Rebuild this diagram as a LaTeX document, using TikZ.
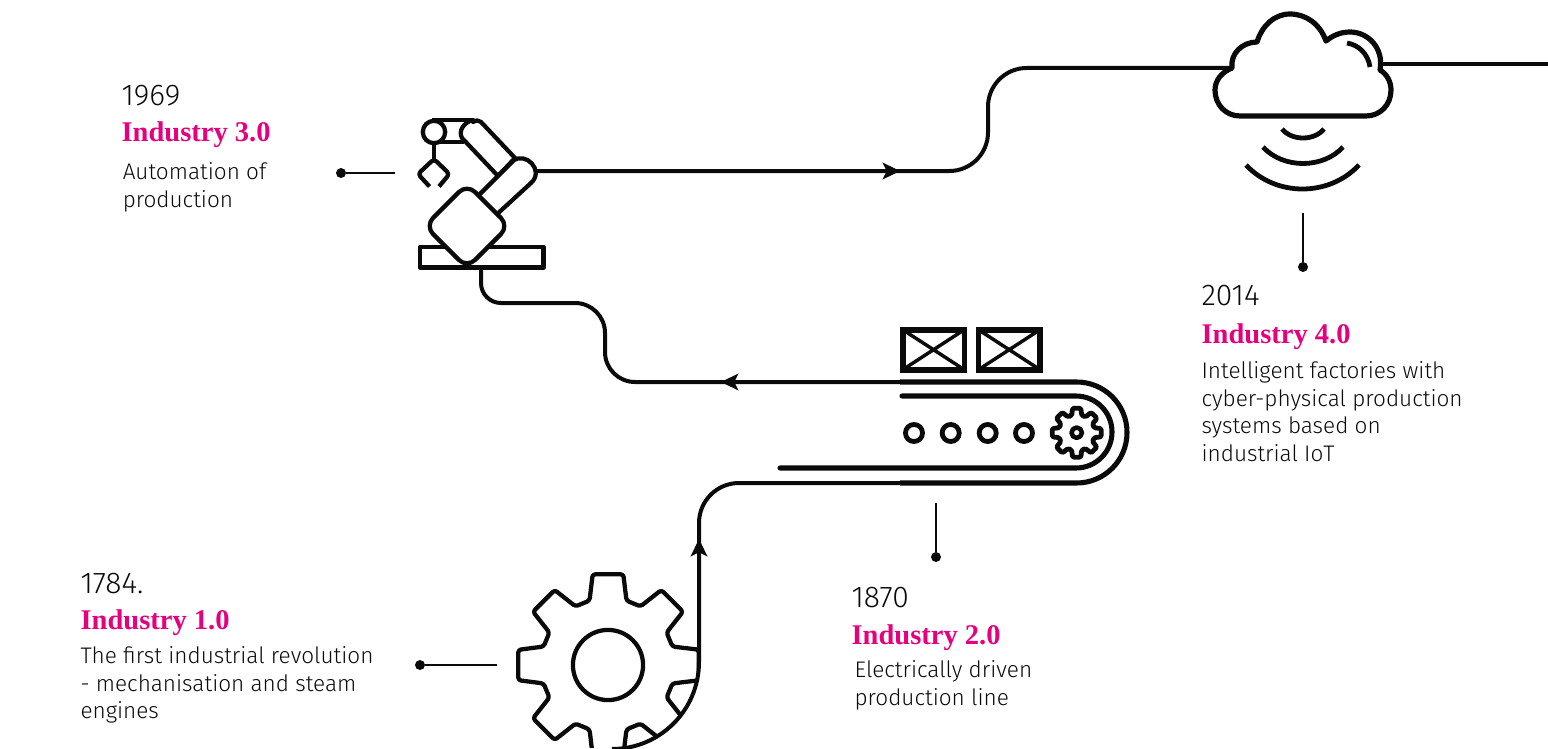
\documentclass[tikz,border=0pt]{standalone}
\usepackage{fontspec}
\usetikzlibrary{arrows.meta}
\setmainfont{Fira Sans Light}
\newfontfamily\headfont{Liberation Serif}[BoldFont={Liberation Serif Bold}]
\definecolor{ink}{HTML}{0A0A0A}
\definecolor{magentaHead}{HTML}{E5007E}
\tikzset{
  wire/.style={draw=ink,line width=3pt},
  belt/.style={draw=ink,line width=3.8pt},
  icon/.style={draw=ink,line width=3.2pt,line join=round,fill=white},
  iconopen/.style={draw=ink,line width=3.2pt,line join=round},
  leader/.style={draw=ink,line width=1.1pt},
  tipdot/.style={circle,fill=ink,inner sep=0pt,minimum size=7.5pt},
  flow/.style={draw=ink,line width=3pt,-{Stealth[length=13pt,width=12.5pt,inset=3pt]}},
  yearlabel/.style={anchor=base west,inner sep=0pt,text=ink,font=\fontsize{22.5}{26}\selectfont},
  titlelabel/.style={anchor=base west,inner sep=0pt,text=magentaHead,font=\headfont\bfseries\fontsize{21.4}{25}\selectfont},
  bodylabel/.style={anchor=north west,inner sep=0pt,align=left,text=ink,font=\fontsize{16.9}{20.7}\selectfont},
}
\begin{document}
\begin{tikzpicture}[x=0.75pt,y=-0.75pt]
\useasboundingbox (0,0) rectangle (1548,749);
% named anchors of the flow line
\coordinate (gearFoot) at (612,749);
\coordinate (beltIn) at (900,483);
\coordinate (beltOut) at (900,382);
\coordinate (platformFoot) at (481,269);
\coordinate (robotOut) at (533,171);
\coordinate (cloudIn) at (1232,68);
\coordinate (cloudOut) at (1380,64);
\coordinate (pageEnd) at (1548,64);
% flow wires
\draw[wire] (gearFoot) [rounded corners=65.25pt] -- (699,749) [rounded corners=30pt] -- (699,483) [sharp corners] -- (beltIn);
\draw[wire] (beltOut) [rounded corners=22.5pt] -- (605,382) -- (605,303) [rounded corners=15pt] -- (481,303) [sharp corners] -- (platformFoot);
\draw[wire] (robotOut) [rounded corners=29pt] -- (988,171) -- (988,68) [sharp corners] -- (cloudIn);
\draw[wire] (cloudOut) -- (pageEnd);
% arrowheads
\coordinate (a1s) at (699,560); \coordinate (a1e) at (699,539);
\coordinate (a2s) at (880,171); \coordinate (a2e) at (900,171);
\coordinate (a3s) at (742,382); \coordinate (a3e) at (721,382);
\draw[flow] (a1s) -- (a1e);
\draw[flow] (a2s) -- (a2e);
\draw[flow] (a3s) -- (a3e);
% big gear, cut by the flow line
\begin{scope}
\clip (500,560) -- (697.5,560) -- (697.5,662) .. controls (697.5,710) and (660,747.5) .. (612,747.5) -- (500,749) -- cycle;
\draw[iconopen,shift={(608,665)},rounded corners=2pt]
  (-16:67) -- (-9.6:92) -- (9.6:92) -- (16:67)
  -- (29:67) -- (35.4:92) -- (54.6:92) -- (61:67)
  -- (74:67) -- (80.4:92) -- (99.6:92) -- (106:67)
  -- (119:67) -- (125.4:92) -- (144.6:92) -- (151:67)
  -- (164:67) -- (170.4:91) -- (189.6:91) -- (196:67)
  -- (209:67) -- (215.4:92) -- (234.6:92) -- (241:67)
  -- (254:67) -- (260.4:92) -- (279.6:92) -- (286:67)
  -- (299:67) -- (305.4:92) -- (324.6:92) -- (331:67) -- cycle;
\end{scope}
\draw[iconopen] (608,665) circle (26.3pt);
% conveyor
\coordinate (innerStart) at (902,396);
\coordinate (innerEnd) at (780,468);
\draw[belt,line cap=butt] (beltIn) -- (1076.5,483) [rounded corners=37.8pt] -- (1127,483) -- (1127,382) [sharp corners] -- (1076.5,382) -- (beltOut);
\draw[belt,line cap=round] (innerStart) -- (1076,396) [rounded corners=27pt] -- (1112,396) -- (1112,468) [sharp corners] -- (1076,468) -- (innerEnd);
\foreach \cx/\nm in {914/r1,950.7/r2,987.7/r3,1024/r4}{
  \draw[draw=ink,line width=3.6pt] (\cx,433) circle (6.4pt);
}
\draw[iconopen,line width=3.6pt,shift={(1076.7,432.7)},scale=0.27,rounded corners=1pt]
  (-16:67) -- (-9.6:92) -- (9.6:92) -- (16:67)
  -- (29:67) -- (35.4:92) -- (54.6:92) -- (61:67)
  -- (74:67) -- (80.4:92) -- (99.6:92) -- (106:67)
  -- (119:67) -- (125.4:92) -- (144.6:92) -- (151:67)
  -- (164:67) -- (170.4:92) -- (189.6:92) -- (196:67)
  -- (209:67) -- (215.4:92) -- (234.6:92) -- (241:67)
  -- (254:67) -- (260.4:92) -- (279.6:92) -- (286:67)
  -- (299:67) -- (305.4:92) -- (324.6:92) -- (331:67) -- cycle;
\draw[iconopen,line width=3.4pt] (1076.7,432.7) circle (3.9pt);
% crates
\foreach \xa/\xb in {902.7/964.3,978.4/1040}{
  \draw[draw=ink,line width=4.2pt] (\xa,329.7) rectangle (\xb,369.7);
  \draw[draw=ink,line width=2.6pt] (\xa,329.7) -- (\xb,369.7) (\xa,369.7) -- (\xb,329.7);
}
% robot
\draw[icon,line width=3.6pt] (420,247) rectangle (543.5,267.5);
\draw[icon] (473,122) .. controls (476,120) and (479,120) .. (481,122) -- (515,158) -- (498,176) -- (462,138) .. controls (458,131) and (464,122) .. (473,120) -- cycle;
\draw[iconopen] (432,120) -- (473,120) (440,142) -- (464,142);
\draw[icon] (434,132) circle (8.4pt);
\draw[iconopen] (434,143) -- (434,159);
\draw[iconopen,fill=none,rounded corners=2.5pt] (429.5,186.5) -- (418,174) -- (434,159) -- (449.5,174) -- (439,186.5);
\draw[icon] (478,196) -- (513,161) .. controls (525,151) and (545,170) .. (531,183) -- (495,216) -- cycle;
\draw[icon,rounded corners=8.5pt] (467,184) -- (509,226) -- (467,268) -- (425,226) -- cycle;
% cloud
\draw[icon,line width=3.9pt] (1232,68)
  .. controls (1222,72) and (1215,80) .. (1215,90)
  .. controls (1215,105) and (1226,116) .. (1240,116)
  -- (1366,116)
  .. controls (1380,116) and (1391,105) .. (1391,90)
  .. controls (1391,82) and (1387,74) .. (1380,70)
  .. controls (1384,48) and (1368,32) .. (1350,32)
  .. controls (1340,32) and (1332,36) .. (1326,41)
  .. controls (1320,24) and (1306,14) .. (1290,14)
  .. controls (1274,14) and (1262,26) .. (1257,42)
  .. controls (1242,42) and (1230,54) .. (1232,68) -- cycle;
\draw[iconopen,line width=3.6pt] (1347,43) .. controls (1359,45) and (1368,54) .. (1370,67);
\draw[iconopen,line width=3.6pt] (1282,129) .. controls (1292,141) and (1314,141) .. (1324,129);
\draw[iconopen,line width=3.6pt] (1263,147) .. controls (1283,169) and (1323,169) .. (1343,147);
\draw[iconopen,line width=3.6pt] (1246,165) .. controls (1276,197) and (1329,197) .. (1359,165);
% leaders
\node[tipdot] (d3) at (341,173) {}; \coordinate (e3) at (395,173);
\node[tipdot] (d1) at (420,665) {}; \coordinate (e1) at (497,665);
\node[tipdot] (d2) at (936,557) {}; \coordinate (e2) at (936,503);
\node[tipdot] (d4) at (1303,267) {}; \coordinate (e4) at (1303,213);
\draw[leader] (d3) -- (e3);
\draw[leader] (d1) -- (e1);
\draw[leader] (d2) -- (e2);
\draw[leader] (d4) -- (e4);
% labels
\node[yearlabel] (y3) at (121.3,105.5) {1969};
\node[titlelabel] (t3) at (121.3,141) {Industry 3.0};
\node[bodylabel] (b3) at (122.5,162.5) {Automation of\\production};
\node[yearlabel] (y4) at (1201.3,305.5) {2014};
\node[titlelabel] (t4) at (1201.3,343) {Industry 4.0};
\node[bodylabel] (b4) at (1201.3,361.5) {Intelligent factories with\\cyber-physical production\\systems based on\\industrial IoT};
\node[yearlabel] (y2) at (851.3,607.5) {1870};
\node[titlelabel] (t2) at (851.3,644) {Industry 2.0};
\node[bodylabel] (b2) at (854.3,660.5) {Electrically driven\\production line};
\node[yearlabel] (y1) at (80.3,593.5) {1784.};
\node[titlelabel] (t1) at (80.3,629) {Industry 1.0};
\node[bodylabel] (b1) at (80.3,646.5) {The first industrial revolution\\- mechanisation and steam\\engines};
\end{tikzpicture}
\end{document}
